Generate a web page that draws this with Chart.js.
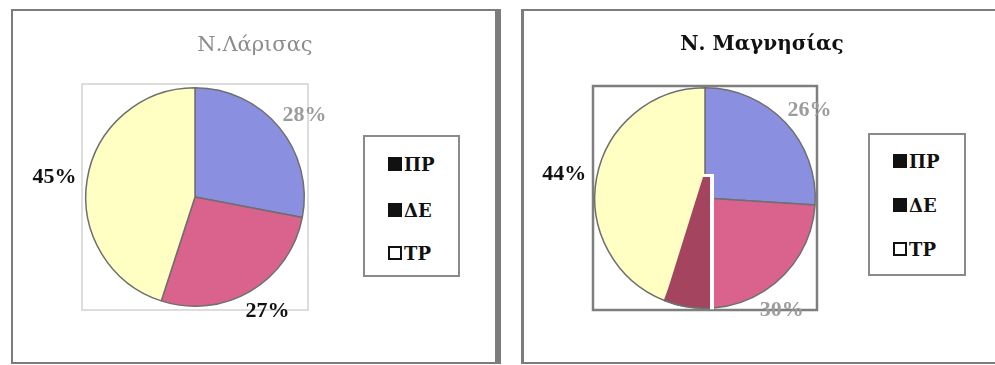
<!DOCTYPE html>
<html>
<head>
<meta charset="utf-8">
<script src="https://cdn.jsdelivr.net/npm/chart.js@4/dist/chart.umd.min.js"></script>
<style>
  html, body { margin: 0; padding: 0; background: #fff; }
  body { width: 995px; height: 365px; position: relative; overflow: hidden; font-family: "DejaVu Serif", serif; }
  .panel { position: absolute; box-sizing: border-box; border-style: solid; border-color: #7c7c7c; background: #fff; z-index: 0; }
  #panelA { left: 11px; top: 9px; width: 490px; height: 355px; border-width: 2px 6px 2px 2px; }
  #panelB { left: 521px; top: 9px; width: 520px; height: 355px; border-width: 2px 0 2px 3px; }
  canvas { position: absolute; top: 0; z-index: 1; }
  #chartA { left: 0; }
  #chartB { left: 510px; }
  .title { position: absolute; z-index: 2; white-space: nowrap; transform: translate(-50%, -50%); }
  #titleA { left: 255px; top: 44px; font-size: 21px; color: #8c8c8c; }
  #titleB { left: 762px; top: 43px; font-size: 20px; font-weight: bold; color: #111; }
  .legend { position: absolute; z-index: 2; box-sizing: border-box; border: 2px solid #8a8a8a; background: #fff; }
  #legendA { left: 363px; top: 135px; width: 97px; height: 142px; }
  #legendB { left: 868px; top: 133px; width: 98px; height: 143px; }
  .item { position: absolute; left: 23px; height: 20px; display: flex; align-items: center; font-weight: bold; font-size: 18px; color: #111; transform: translateY(-50%); }
  .sw { width: 14px; height: 14px; box-sizing: border-box; margin-right: 2px; background: #111; border: 2px solid #111; }
  .sw.hollow { background: #fff; }
</style>
</head>
<body>
<div class="panel" id="panelA"></div>
<div class="panel" id="panelB"></div>
<canvas id="chartA" width="510" height="365"></canvas>
<canvas id="chartB" width="485" height="365"></canvas>
<div class="title" id="titleA"></div>
<div class="title" id="titleB"></div>
<div class="legend" id="legendA"></div>
<div class="legend" id="legendB"></div>
<script>
// Shares of the three categories in each prefecture (%)
const categories = ['ΠΡ', 'ΔΕ', 'ΤΡ'];
const larisaValues = [28, 27, 45];
const magnesiaValues = [26, 30, 44];
const larisaTitle = 'Ν.Λάρισας';
const magnesiaTitle = 'Ν. Μαγνησίας';

const sliceColors = ['#8a8fdf', '#d9638c', '#ffffc4'];
const outline = '#6f6f6f';
const labelFont = 'bold 22px "Liberation Serif", serif';

document.getElementById('titleA').textContent = larisaTitle;
document.getElementById('titleB').textContent = magnesiaTitle;

// HTML legend boxes built from the category list
function buildLegend(id, rowsY) {
  const box = document.getElementById(id);
  categories.forEach((name, i) => {
    const row = document.createElement('div');
    row.className = 'item';
    row.style.top = rowsY[i] + 'px';
    const sw = document.createElement('span');
    sw.className = 'sw' + (i === categories.length - 1 ? ' hollow' : '');
    const tx = document.createElement('span');
    tx.textContent = name;
    row.appendChild(sw);
    row.appendChild(tx);
    box.appendChild(row);
  });
}
buildLegend('legendA', [27, 73, 116]);
buildLegend('legendB', [26, 70, 114]);

// Square frame drawn around the pie's plot area
const plotFrame = {
  id: 'plotFrame',
  beforeDatasetsDraw(chart, args, opts) {
    const a = chart.chartArea, ctx = chart.ctx;
    ctx.save();
    ctx.strokeStyle = opts.color;
    ctx.lineWidth = opts.width;
    ctx.strokeRect(a.left - opts.pad, a.top - opts.pad, a.right - a.left + 2 * opts.pad, a.bottom - a.top + 2 * opts.pad);
    ctx.restore();
  }
};

// Percentage labels placed just outside each slice
const pctLabels = {
  id: 'pctLabels',
  afterDatasetsDraw(chart, args, opts) {
    const meta = chart.getDatasetMeta(0);
    const data = chart.data.datasets[0].data;
    const total = data.reduce((s, v) => s + v, 0);
    const ctx = chart.ctx;
    ctx.save();
    ctx.font = labelFont;
    ctx.textAlign = 'center';
    ctx.textBaseline = 'middle';
    meta.data.forEach((arc, i) => {
      const p = arc.getProps(['x', 'y', 'startAngle', 'endAngle', 'outerRadius'], true);
      const mid = (p.startAngle + p.endAngle) / 2;
      const dx = Math.cos(mid), dy = Math.sin(mid);
      const text = Math.round(data[i] / total * 100) + '%';
      const w = ctx.measureText(text).width, h = 15;
      const r = p.outerRadius + opts.gap;
      ctx.fillStyle = opts.colors[i];
      ctx.fillText(text, p.x + dx * r + dx * w / 2, p.y + dy * r + dy * h / 2 + (dy > 0 ? 4 : 0));
    });
    ctx.restore();
  }
};

// Darker, split-off part of the second slice below the centre line
const splitSlice = {
  id: 'splitSlice',
  afterDatasetsDraw(chart, args, opts) {
    if (!opts.enabled) return;
    const arc = chart.getDatasetMeta(0).data[1];
    const p = arc.getProps(['x', 'y', 'endAngle', 'outerRadius'], true);
    const ctx = chart.ctx;
    const r = p.outerRadius, cx = p.x, cy = p.y;
    const cut = 5, lift = 21;
    const aBottom = Math.acos(cut / r);
    ctx.save();
    ctx.beginPath();
    ctx.moveTo(cx + cut, cy - lift);
    ctx.lineTo(cx + cut, cy + Math.sin(aBottom) * r);
    ctx.arc(cx, cy, r, aBottom, p.endAngle);
    ctx.lineTo(cx - 2, cy - lift);
    ctx.closePath();
    ctx.fillStyle = opts.color;
    ctx.fill();
    ctx.beginPath();
    ctx.arc(cx, cy, r, aBottom, p.endAngle);
    ctx.strokeStyle = outline;
    ctx.lineWidth = 1.5;
    ctx.stroke();
    ctx.fillStyle = '#ffffff';
    ctx.fillRect(cx + cut, cy - lift - 3, 4, r + lift + 4);
    ctx.fillRect(cx - 2, cy - lift - 3, cut + 6, 3);
    ctx.restore();
  }
};

function makePie(id, values, padding, frame, labelColors, split) {
  return new Chart(document.getElementById(id), {
    type: 'pie',
    data: {
      labels: categories,
      datasets: [{
        data: values,
        backgroundColor: sliceColors,
        borderColor: outline,
        borderWidth: 1.5
      }]
    },
    options: {
      responsive: false,
      animation: false,
      layout: { padding: padding },
      plugins: {
        legend: { display: false },
        tooltip: { enabled: false },
        plotFrame: frame,
        pctLabels: { gap: 11, colors: labelColors },
        splitSlice: { enabled: split, color: '#a4445f' }
      }
    },
    plugins: [plotFrame, splitSlice, pctLabels]
  });
}

makePie('chartA', larisaValues,
  { left: 85, top: 87, right: 205, bottom: 58 },
  { color: '#d2d2d2', width: 1.5, pad: 3 },
  ['#9c9c9c', '#111111', '#111111'], false);

makePie('chartB', magnesiaValues,
  { left: 84, top: 87, right: 179, bottom: 56 },
  { color: '#7e7e7e', width: 2.5, pad: 1 },
  ['#9c9c9c', '#9c9c9c', '#111111'], true);
</script>
</body>
</html>
